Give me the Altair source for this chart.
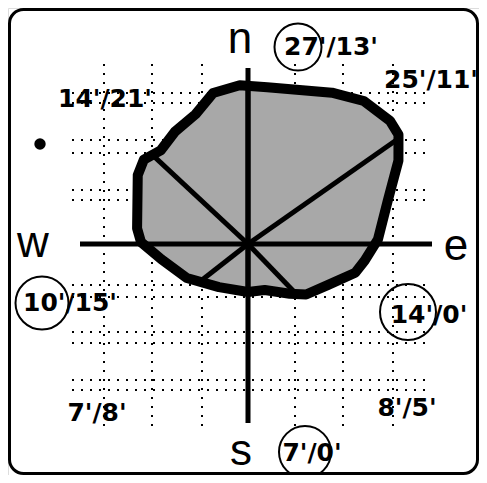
import altair as alt
import pandas as pd

# ---- data (units: px from centre, y up) ----
outline_angle = [357, 7, 29, 39, 49, 54, 61, 73, 88, 98, 105, 117, 131, 140, 160, 180,
                 214, 241, 260, 271, 278, 302, 309, 317, 327, 338, 347]
outline_radius = [159, 158, 173, 184, 188, 186, 172, 146, 130, 118, 111, 90, 77, 65, 49, 48,
                  52, 70, 88, 107, 112, 130, 134, 128, 134, 140, 155]

spoke_angle = [0, 55, 136, 180, 232, 313]
spoke_length = [158, 186, 66, 47, 58, 130]

labels = ["27'/13'", "25'/11'", "14'/21'", "10'/15'", "14'/0'", "7'/8'", "8'/5'", "7'/0'"]
compass = ["n", "s", "w", "e"]

grid_x = [-144, -96, -46, 47, 95, 145]
grid_y = [151, 141, 104, 91, 54, 44, -41, -53, -88, -99, -136, -146]

# ---- layout ----
label_x = [83, 183, -143, -178, 181, -151, 159, 64]
label_y = [189, 156, 137, -67, -79, -177, -172, -217]
compass_x = [-8, -7, -215, 208]
compass_y = [191, -221, -13, -16]
circle_x = [50, -206, 160, 57]
circle_y = [197, -59, -68, -208]
circle_d = [47, 53, 56, 52]

X = alt.Scale(domain=[-240, 231], nice=False, zero=False)
Y = alt.Scale(domain=[-231, 236], nice=False, zero=False)

def xq(f):
    return alt.X(f, type="quantitative", scale=X, axis=None)

def yq(f):
    return alt.Y(f, type="quantitative", scale=Y, axis=None)

vgrid = alt.Chart(pd.DataFrame({"gx": grid_x})).mark_rule(
    color="black", strokeWidth=2, strokeDash=[2, 7]
).encode(x=xq("gx"), y=alt.value(56), y2=alt.value(419))

hgrid = alt.Chart(pd.DataFrame({"gy": grid_y})).mark_rule(
    color="black", strokeWidth=2, strokeDash=[2, 7]
).encode(y=yq("gy"), x=alt.value(64), x2=alt.value(422))

outline = alt.Chart(pd.DataFrame({"a": outline_angle, "r": outline_radius})).transform_calculate(
    px="datum.r*sin(datum.a*PI/180)", py="datum.r*cos(datum.a*PI/180)"
).mark_line(
    interpolate="linear-closed", fill="#a8a8a8", stroke="black", strokeWidth=10,
    strokeJoin="round"
).encode(x=xq("px"), y=yq("py"), order=alt.Order("a:Q"))

haxis = alt.Chart(pd.DataFrame({"v": [0]})).mark_rule(color="black", strokeWidth=5).encode(
    y=yq("v"), x=alt.value(72), x2=alt.value(424))
vaxis = alt.Chart(pd.DataFrame({"v": [0]})).mark_rule(color="black", strokeWidth=5).encode(
    x=xq("v"), y=alt.value(60), y2=alt.value(415))

spokes = alt.Chart(pd.DataFrame({"a": spoke_angle, "r": spoke_length})).transform_calculate(
    px="datum.r*sin(datum.a*PI/180)", py="datum.r*cos(datum.a*PI/180)", zero="0"
).mark_rule(color="black", strokeWidth=5).encode(
    x=xq("zero"), y=yq("zero"), x2="px:Q", y2="py:Q")

txt = alt.Chart(pd.DataFrame({"t": labels, "lx": label_x, "ly": label_y})).mark_text(
    font="DejaVu Sans", fontWeight="bold", fontSize=25, baseline="alphabetic", align="center",
    color="black"
).encode(x=xq("lx"), y=yq("ly"), text="t:N")

comp = alt.Chart(pd.DataFrame({"t": compass, "cx": compass_x, "cy": compass_y})).mark_text(
    font="Liberation Sans", fontSize=44, baseline="alphabetic", align="center", color="black"
).encode(x=xq("cx"), y=yq("cy"), text="t:N")

circles = alt.Chart(pd.DataFrame({"cx": circle_x, "cy": circle_y, "d": circle_d})).transform_calculate(
    s="datum.d*datum.d"
).mark_point(shape="circle", filled=False, color="black", strokeWidth=2, opacity=1).encode(
    x=xq("cx"), y=yq("cy"), size=alt.Size("s:Q", scale=None))

dot = alt.Chart(pd.DataFrame({"cx": [-208], "cy": [100]})).mark_point(
    shape="circle", filled=True, color="black", size=130, opacity=1
).encode(x=xq("cx"), y=yq("cy"))

frame = alt.Chart(pd.DataFrame({"v": [0]})).mark_rect(
    filled=False, stroke="black", strokeWidth=3, cornerRadius=14
).encode(x=alt.value(1.5), x2=alt.value(469.5), y=alt.value(1.5), y2=alt.value(465.5))

chart = alt.layer(vgrid, hgrid, outline, haxis, vaxis, spokes, txt, comp, circles, dot, frame).properties(
    width=471, height=467, padding=0, autosize=alt.AutoSizeParams(type="none")
).configure_view(stroke=None).configure(background="white")

chart.save("out.html", embed_options={"renderer": "svg", "actions": False})
